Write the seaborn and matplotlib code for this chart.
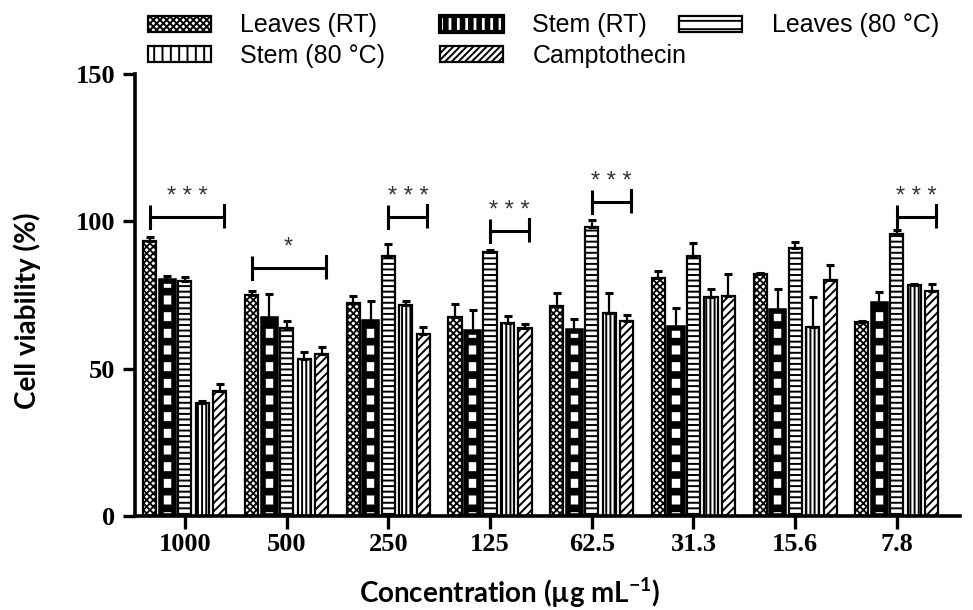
import numpy as np
import pandas as pd
import matplotlib
matplotlib.use("Agg")
import matplotlib.pyplot as plt
from matplotlib.patches import Patch
import seaborn as sns

concentrations = ["1000", "500", "250", "125", "62.5", "31.3", "15.6", "7.8"]
series = ["Leaves (RT)", "Stem (RT)", "Leaves (80 °C)", "Stem (80 °C)", "Camptothecin"]

leaves_rt = [93.4, 75.0, 72.2, 67.6, 71.3, 80.6, 82.0, 65.9]
leaves_rt_err = [1.3, 1.5, 2.4, 4.5, 4.5, 2.6, 0.3, 0.3]
stem_rt = [79.8, 66.8, 65.9, 62.5, 62.9, 63.7, 69.6, 71.9]
stem_rt_err = [1.8, 8.4, 7.0, 7.4, 3.8, 6.8, 7.4, 4.0]
leaves_80 = [79.8, 63.9, 88.3, 89.7, 98.0, 88.2, 90.8, 95.6]
leaves_80_err = [1.2, 2.4, 3.9, 0.5, 2.4, 4.5, 2.1, 1.5]
stem_80 = [38.5, 53.3, 71.6, 65.4, 69.0, 74.2, 64.0, 78.4]
stem_80_err = [0.4, 2.5, 1.4, 2.5, 6.8, 2.8, 10.2, 0.3]
campto = [42.5, 55.0, 61.8, 63.7, 66.3, 74.8, 80.1, 76.5]
campto_err = [2.3, 2.5, 2.5, 1.5, 1.9, 7.3, 5.1, 2.1]

# significance brackets
sig_groups = [0, 1, 2, 3, 4, 7]
sig_from = [0, 0, 2, 2, 2, 2]
sig_to = [4, 4, 4, 4, 4, 4]
sig_y = [101.6, 84.3, 101.6, 96.8, 106.7, 101.6]
sig_labels = ["* * *", "*", "* * *", "* * *", "* * *", "* * *"]

values = [leaves_rt, stem_rt, leaves_80, stem_80, campto]
errors = [leaves_rt_err, stem_rt_err, leaves_80_err, stem_80_err, campto_err]

rows = []
for s, vals, errs in zip(series, values, errors):
    for c, v, e in zip(concentrations, vals, errs):
        rows.append({"Concentration": c, "Sample": s, "Viability": v, "Err": e})
df = pd.DataFrame(rows)

sns.set_theme(style="ticks")
plt.rcParams["hatch.linewidth"] = 1.4
plt.rcParams["mathtext.fontset"] = "custom"
plt.rcParams["mathtext.rm"] = "Lato:bold"
plt.rcParams["mathtext.bf"] = "Lato:bold"

hatches = ["xxxxx", "-", "---", "||||", "////"]
hatch_lw = [1.3, 5.5, 1.4, 1.4, 1.4]
edge_lw = [1.6, 4.0, 1.6, 1.6, 1.6]
legend_hatches = ["xxxxx", "||", "--", "||", "/////"]


def set_hlw(p, lw):
    if hasattr(p, "set_hatch_linewidth"):
        p.set_hatch_linewidth(lw)


fig = plt.figure(figsize=(9.73, 6.10), dpi=100)
ax = fig.add_axes([135 / 973, 94 / 610, 825 / 973, 442 / 610])

sns.barplot(data=df, x="Concentration", y="Viability", hue="Sample",
            order=concentrations, hue_order=series, errorbar=None,
            palette=["white"] * 5, edgecolor="black", linewidth=1.6,
            width=0.86, gap=0.25, legend=False, ax=ax)

bar_conts = list(ax.containers)
centers = []
for i, cont in enumerate(bar_conts):
    xs = []
    for p in cont:
        p.set_hatch(hatches[i])
        p.set_linewidth(edge_lw[i])
        p.set_edgecolor("black")
        set_hlw(p, hatch_lw[i])
        xs.append(p.get_x() + p.get_width() / 2)
    centers.append(xs)
    ax.errorbar(xs, values[i], yerr=[np.zeros(len(xs)), errors[i]], fmt="none",
                ecolor="black", elinewidth=1.6, capsize=2.6, capthick=2.2, zorder=3)

# significance brackets
for g, a, b, y, lab in zip(sig_groups, sig_from, sig_to, sig_y, sig_labels):
    x0 = centers[a][g]
    x1 = centers[b][g] + 0.04
    ax.plot([x0, x0, x0, x1, x1, x1], [y + 3.9, y - 3.9, y, y, y + 3.9, y - 3.9],
            color="black", lw=2.2, solid_capstyle="butt", clip_on=False)
    ax.text((x0 + x1) / 2, y + 3.0, lab, ha="center", va="bottom",
            fontsize=17, color="#333333", family="Liberation Sans")

ax.set_ylim(0, 150)
ax.set_xlim(-0.49, 7.62)
ax.set_yticks([0, 50, 100, 150])
sns.despine(ax=ax)
for sp in ["left", "bottom"]:
    ax.spines[sp].set_linewidth(2.6)
    ax.spines[sp].set_color("black")
ax.tick_params(axis="both", length=9, width=2.4, direction="out", color="black")
ax.tick_params(axis="y", pad=5)
ax.tick_params(axis="x", pad=3)
for lab in ax.get_xticklabels() + ax.get_yticklabels():
    lab.set_fontfamily("Liberation Serif")
    lab.set_fontweight("bold")
    lab.set_fontsize(19)
    lab.set_color("black")

ax.set_xlabel(r"Concentration (µg mL$^{-1}$)", fontsize=20, fontweight="bold",
              family="Lato", va="center", color="black")
ax.set_ylabel("Cell viability (%)", fontsize=20, fontweight="bold",
              family="Lato", va="center", color="black")
ax.xaxis.set_label_coords(0.4545, -0.174)
ax.yaxis.set_label_coords(-0.131, 0.464)


def make_handle(i):
    h = Patch(facecolor="white", edgecolor="black", linewidth=edge_lw[i] if i != 1 else 3.0,
              hatch=legend_hatches[i])
    return h


legend_cols = [[0, 3], [1, 4], [2]]
legend_x = [148 / 973, 440 / 973, 679 / 973]
for cols, lx in zip(legend_cols, legend_x):
    leg = fig.legend([make_handle(i) for i in cols], [series[i] for i in cols],
                     loc="upper left", bbox_to_anchor=(lx, 0.978), frameon=False,
                     borderpad=0, borderaxespad=0, handlelength=2.5, handleheight=0.6,
                     handletextpad=1.2, labelspacing=0.25, labelcolor="black",
                     prop={"family": "Liberation Sans", "size": 18})
    for h in leg.legend_handles:
        set_hlw(h, 4.0 if h.get_hatch() == "||" and h.get_linewidth() > 2 else 1.4)

fig.savefig("out.png", dpi=100)
